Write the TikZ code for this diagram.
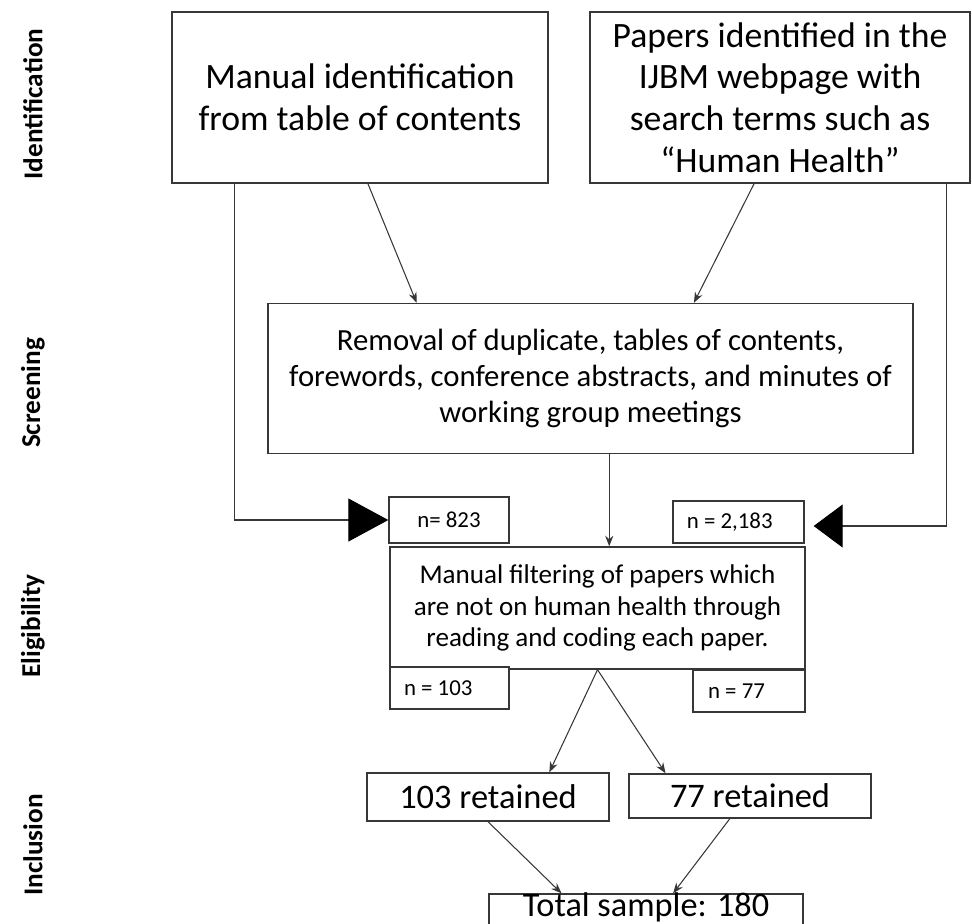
\documentclass[tikz,border=0pt]{standalone}
\usepackage{fontspec}
\setmainfont{Carlito}
\usetikzlibrary{arrows.meta, calc}
\definecolor{flowline}{RGB}{55, 55, 55}
\begin{document}
\begin{tikzpicture}[x=0.02cm, y=-0.02cm, every node/.style={inner sep=0pt, align=center},
    flowbox/.style={draw=flowline, line width=0.8pt, fill=white},
    flowarrow/.style={draw=flowline, line width=0.6pt, -{Stealth[length=6pt, width=4.6pt]}},
    bigarrow/.style={draw=flowline, line width=0.6pt, -{Triangle[length=#1, width=0.86cm, color=black]}},
    phase/.style={rotate=90, font=\fontsize{15.5}{18}\selectfont\bfseries}]
        \useasboundingbox (0, 0) rectangle (972, 923);
        % Phase labels on the left
        \foreach \phasename/\py in {Identification/104, Screening/393, Eligibility/626, Inclusion/845}
            \node[phase] (lbl\phasename) at (33, \py) {\phasename};
        % Identification boxes
        \node[flowbox, minimum width=7.52cm, minimum height=3.42cm, font=\fontsize{20.3}{23.8}\selectfont]
            (manual) at (360, 97.5) {Manual identification\\from table of contents};
        \node[flowbox, minimum width=7.6cm, minimum height=3.42cm, font=\fontsize{20.3}{23.8}\selectfont]
            (webpage) at (780, 97.5) {Papers identified in the\\IJBM webpage with\\search terms such as\\``Human Health''};
        % Screening box
        \node[flowbox, minimum width=12.9cm, minimum height=3.0cm, font=\fontsize{17.5}{20.7}\selectfont]
            (removal) at (590.5, 378.5) {Removal of duplicate, tables of contents,\\forewords, conference abstracts, and minutes of\\working group meetings};
        % Counts entering eligibility
        \node[flowbox, minimum width=2.4cm, minimum height=0.92cm, font=\fontsize{13}{15}\selectfont]
            (n823) at (449, 520) {n= 823};
        \node[flowbox, minimum width=2.62cm, minimum height=0.84cm, font=\fontsize{13}{15}\selectfont]
            (n2183) at (738.5, 522) {n = 2,183\hspace{0.35cm}};
        % Eligibility box
        \node[flowbox, minimum width=8.3cm, minimum height=2.44cm, font=\fontsize{15.4}{18.1}\selectfont]
            (filter) at (597.5, 608) {Manual filtering of papers which\\are not on human health through\\reading and coding each paper.};
        \node[flowbox, minimum width=2.38cm, minimum height=0.84cm, font=\fontsize{13}{15}\selectfont]
            (n103) at (449.5, 688) {n = 103\hspace{0.45cm}};
        \node[flowbox, minimum width=2.24cm, minimum height=0.84cm, font=\fontsize{13}{15}\selectfont]
            (n77) at (749, 691) {n = 77\hspace{0.5cm}};
        % Inclusion boxes
        \node[flowbox, minimum width=4.84cm, minimum height=0.96cm, font=\fontsize{19.6}{23}\selectfont]
            (ret103) at (488, 797) {103 retained};
        \node[flowbox, minimum width=4.84cm, minimum height=0.88cm, font=\fontsize{19.6}{23}\selectfont]
            (ret77) at (750, 796) {77 retained};
        % box runs on past the lower edge
        \node[flowbox, anchor=base, minimum width=6.28cm, text height=0.44cm, text depth=0.6cm, font=\fontsize{19.5}{23}\selectfont]
            (total) at (646, 916) {Total sample: 180};
        % Connectors
        \coordinate (rtip) at ($(n2183.east) + (9, 4)$);
        \draw[flowarrow] ($(manual.south west)!0.521!(manual.south east)$) -- ($(removal.north west)!0.231!(removal.north east)$);
        \draw[flowarrow] ($(webpage.south west)!0.432!(webpage.south east)$) -- ($(removal.north west)!0.660!(removal.north east)$);
        \draw[bigarrow=0.8cm] ($(manual.south west)!0.168!(manual.south east)$) |- (n823.west);
        \draw[bigarrow=0.58cm] ($(webpage.south west)!0.937!(webpage.south east)$) |- (rtip);
        \draw[flowarrow] ($(removal.south west)!0.529!(removal.south east)$) coordinate (cdown) -- (cdown |- filter.north);
        \draw[flowarrow] (filter.south) -- ($(ret103.north west)!0.752!(ret103.north east)$);
        \draw[flowarrow] (filter.south) -- ($(ret77.north west)!0.153!(ret77.north east)$);
        \draw[flowarrow] (ret103.south) -- ($(total.north west)!0.232!(total.north east)$);
        \draw[flowarrow] ($(ret77.south west)!0.417!(ret77.south east)$) -- ($(total.north west)!0.586!(total.north east)$);
\end{tikzpicture}
\end{document}
